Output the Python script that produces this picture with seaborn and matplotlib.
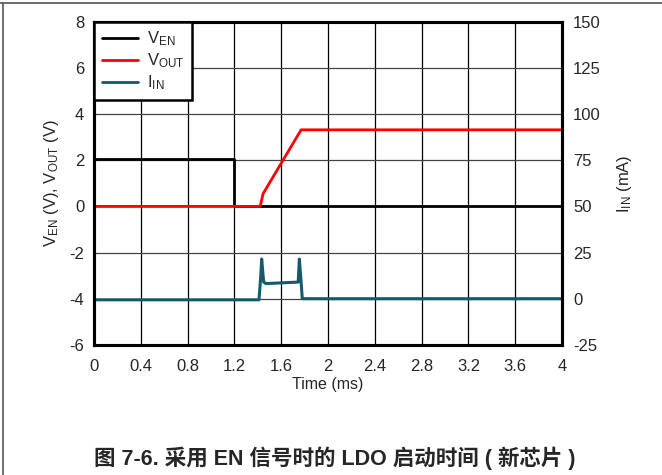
import numpy as np
import pandas as pd
import seaborn as sns
import matplotlib.pyplot as plt
from matplotlib.lines import Line2D

t_en = [0, 1.2, 1.2, 4.0]
v_en = [2.05, 2.05, 0.0, 0.0]

t_out = [0, 1.42, 1.445, 1.77, 4.0]
v_out = [0.0, 0.0, 0.55, 3.32, 3.32]

t_in = [0, 1.41, 1.425, 1.433, 1.45, 1.47, 1.745, 1.755, 1.77, 1.78, 4.0]
i_in = [-0.6, -0.6, 12.0, 21.5, 9.0, 8.2, 9.0, 21.5, 9.0, 0.0, 0.0]

x_ticks = [0, 0.4, 0.8, 1.2, 1.6, 2, 2.4, 2.8, 3.2, 3.6, 4]
x_labels = ['0', '0.4', '0.8', '1.2', '1.6', '2', '2.4', '2.8', '3.2', '3.6', '4']
left_ticks = [-6, -4, -2, 0, 2, 4, 6, 8]
right_ticks = [-25, 0, 25, 50, 75, 100, 125, 150]

sns.set_style("white")
plt.rcParams['font.family'] = ['Liberation Sans', 'Noto Sans CJK SC']
plt.rcParams['mathtext.default'] = 'regular'
plt.rcParams['axes.unicode_minus'] = False

df_en = pd.DataFrame({'t': t_en, 'v': v_en})
df_out = pd.DataFrame({'t': t_out, 'v': v_out})
df_in = pd.DataFrame({'t': t_in, 'i': i_in})

fig = plt.figure(figsize=(6.62, 4.75), dpi=100)
ax = fig.add_axes([0.142, 0.274, 0.707, 0.680])

for x in x_ticks:
    ax.axvline(x, color='black', lw=0.9, zorder=0)
for y in left_ticks:
    ax.axhline(y, color='#444444', lw=0.9, zorder=0)

sns.lineplot(data=df_en, x='t', y='v', ax=ax, color='black', lw=2.0, sort=False, estimator=None)
sns.lineplot(data=df_out, x='t', y='v', ax=ax, color='#ff0000', lw=2.0, sort=False, estimator=None)

ax.set_xlim(0, 4)
ax.set_ylim(-6, 8)
ax.set_xticks(x_ticks)
ax.set_xticklabels(x_labels)
ax.set_yticks(left_ticks)
ax.tick_params(axis='x', labelsize=12, length=0, pad=10)
ax.tick_params(axis='y', labelsize=12, length=0, pad=7)
ax.set_xlabel('Time (ms)', fontsize=11.5, labelpad=2)
ax.set_ylabel(r'V$_{EN}$ (V), V$_{OUT}$ (V)', fontsize=12, labelpad=6)

ax2 = ax.twinx()
sns.lineplot(data=df_in, x='t', y='i', ax=ax2, color='#145a6a', lw=2.2, sort=False, estimator=None)
ax2.set_ylim(-25, 150)
ax2.set_yticks(right_ticks)
ax2.tick_params(labelsize=12, length=0, pad=8)
ax2.set_ylabel(r'I$_{IN}$ (mA)', fontsize=12, labelpad=10)
ax2.set_xlim(0, 4)

for a in (ax, ax2):
    for s in a.spines.values():
        s.set_color('black')
        s.set_linewidth(2.2)

handles = [Line2D([], [], color='black', lw=2.0),
           Line2D([], [], color='#ff0000', lw=2.0),
           Line2D([], [], color='#145a6a', lw=2.0)]
labels = [r'V$_{EN}$', r'V$_{OUT}$', r'I$_{IN}$']
leg = ax2.legend(handles, labels, loc='upper left', fontsize=12, frameon=True,
                 fancybox=False, borderaxespad=0, handlelength=2.2,
                 handletextpad=0.5, labelspacing=0.2, borderpad=0.45)
leg.get_frame().set_edgecolor('black')
leg.get_frame().set_linewidth(1.8)
leg.get_frame().set_alpha(1)

# page frame lines
fig.add_artist(Line2D([0, 1], [0.994, 0.994], color='#555555', lw=1.2, transform=fig.transFigure))
fig.add_artist(Line2D([0.005, 0.005], [0, 0.994], color='#555555', lw=1.2, transform=fig.transFigure))

fig.text(0.505, 0.036, '图 7-6. 采用 EN 信号时的 LDO 启动时间 ( 新芯片 )',
         ha='center', va='center', fontsize=15.5, fontweight='bold')

fig.savefig('out.png', dpi=100)
